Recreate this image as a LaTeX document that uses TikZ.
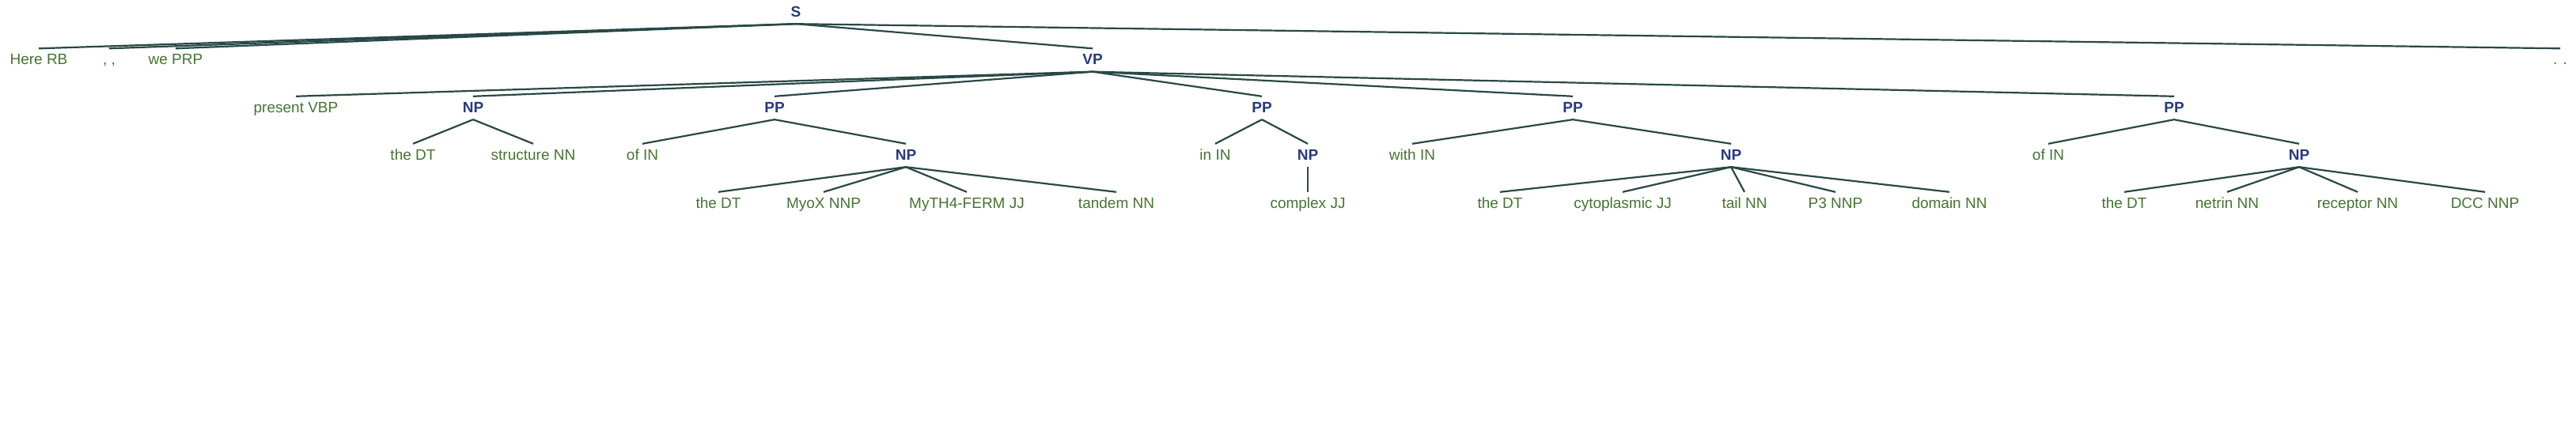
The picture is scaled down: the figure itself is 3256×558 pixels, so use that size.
\documentclass[tikz,border=0pt]{standalone}
\usepackage{fontspec}
\setmainfont{Liberation Sans}
\definecolor{catblue}{RGB}{38,58,128}
\definecolor{wordgreen}{RGB}{68,116,48}
\definecolor{edgecol}{RGB}{40,72,70}
\tikzset{
  tnode/.style={anchor=base, inner xsep=0pt, inner ysep=6pt, text height=14pt, text depth=3pt,
    font=\fontsize{19}{22}\selectfont},
  cat/.style={tnode, text=catblue, font=\fontsize{19}{22}\selectfont\bfseries},
  word/.style={tnode, text=wordgreen},
  edge/.style={draw=edgecol, line width=2.2pt}
}
\begin{document}
\begin{tikzpicture}[x=1pt,y=-1pt]
\useasboundingbox (0,0) rectangle (3256,558);
% level baselines
\def\Lz{21}\def\La{81.5}\def\Lb{142}\def\Lc{202}\def\Ld{263}
\node[cat] (S) at (1006,\Lz) {S};
% level 1
\node[word] (here) at (49,\La) {Here RB};
\node[word] (comma) at (138,\La) {, ,};
\node[word] (we) at (222,\La) {we PRP};
\node[cat] (VP) at (1381,\La) {VP};
\node[word] (dot) at (3236,\La) {. .};
% level 2
\node[word] (present) at (374,\Lb) {present VBP};
\node[cat] (NPa) at (598,\Lb) {NP};
\node[cat] (PPa) at (979,\Lb) {PP};
\node[cat] (PPb) at (1595,\Lb) {PP};
\node[cat] (PPc) at (1988,\Lb) {PP};
\node[cat] (PPd) at (2748,\Lb) {PP};
% level 3
\node[word] (theA) at (522,\Lc) {the DT};
\node[word] (structure) at (674,\Lc) {structure NN};
\node[word] (ofA) at (812,\Lc) {of IN};
\node[cat] (NPb) at (1145,\Lc) {NP};
\node[word] (in) at (1536,\Lc) {in IN};
\node[cat] (NPc) at (1653,\Lc) {NP};
\node[word] (with) at (1785,\Lc) {with IN};
\node[cat] (NPd) at (2188,\Lc) {NP};
\node[word] (ofB) at (2589,\Lc) {of IN};
\node[cat] (NPe) at (2906,\Lc) {NP};
% level 4
\node[word] (theB) at (908,\Ld) {the DT};
\node[word] (myox) at (1041,\Ld) {MyoX NNP};
\node[word] (myth) at (1222,\Ld) {MyTH4-FERM JJ};
\node[word] (tandem) at (1411,\Ld) {tandem NN};
\node[word] (complex) at (1653,\Ld) {complex JJ};
\node[word] (theC) at (1896,\Ld) {the DT};
\node[word] (cyto) at (2051,\Ld) {cytoplasmic JJ};
\node[word] (tail) at (2205,\Ld) {tail NN};
\node[word] (p3) at (2320,\Ld) {P3 NNP};
\node[word] (domain) at (2464,\Ld) {domain NN};
\node[word] (theD) at (2685,\Ld) {the DT};
\node[word] (netrin) at (2815,\Ld) {netrin NN};
\node[word] (receptor) at (2980,\Ld) {receptor NN};
\node[word] (dcc) at (3141,\Ld) {DCC NNP};
% edges
\foreach \c in {here,comma,we,VP,dot} \draw[edge] (S.south) -- (\c.north);
\foreach \c in {present,NPa,PPa,PPb,PPc,PPd} \draw[edge] (VP.south) -- (\c.north);
\foreach \c in {theA,structure} \draw[edge] (NPa.south) -- (\c.north);
\foreach \c in {ofA,NPb} \draw[edge] (PPa.south) -- (\c.north);
\foreach \c in {in,NPc} \draw[edge] (PPb.south) -- (\c.north);
\foreach \c in {with,NPd} \draw[edge] (PPc.south) -- (\c.north);
\foreach \c in {ofB,NPe} \draw[edge] (PPd.south) -- (\c.north);
\foreach \c in {theB,myox,myth,tandem} \draw[edge] (NPb.south) -- (\c.north);
\draw[edge] (NPc.south) -- (complex.north);
\foreach \c in {theC,cyto,tail,p3,domain} \draw[edge] (NPd.south) -- (\c.north);
\foreach \c in {theD,netrin,receptor,dcc} \draw[edge] (NPe.south) -- (\c.north);
\end{tikzpicture}
\end{document}
